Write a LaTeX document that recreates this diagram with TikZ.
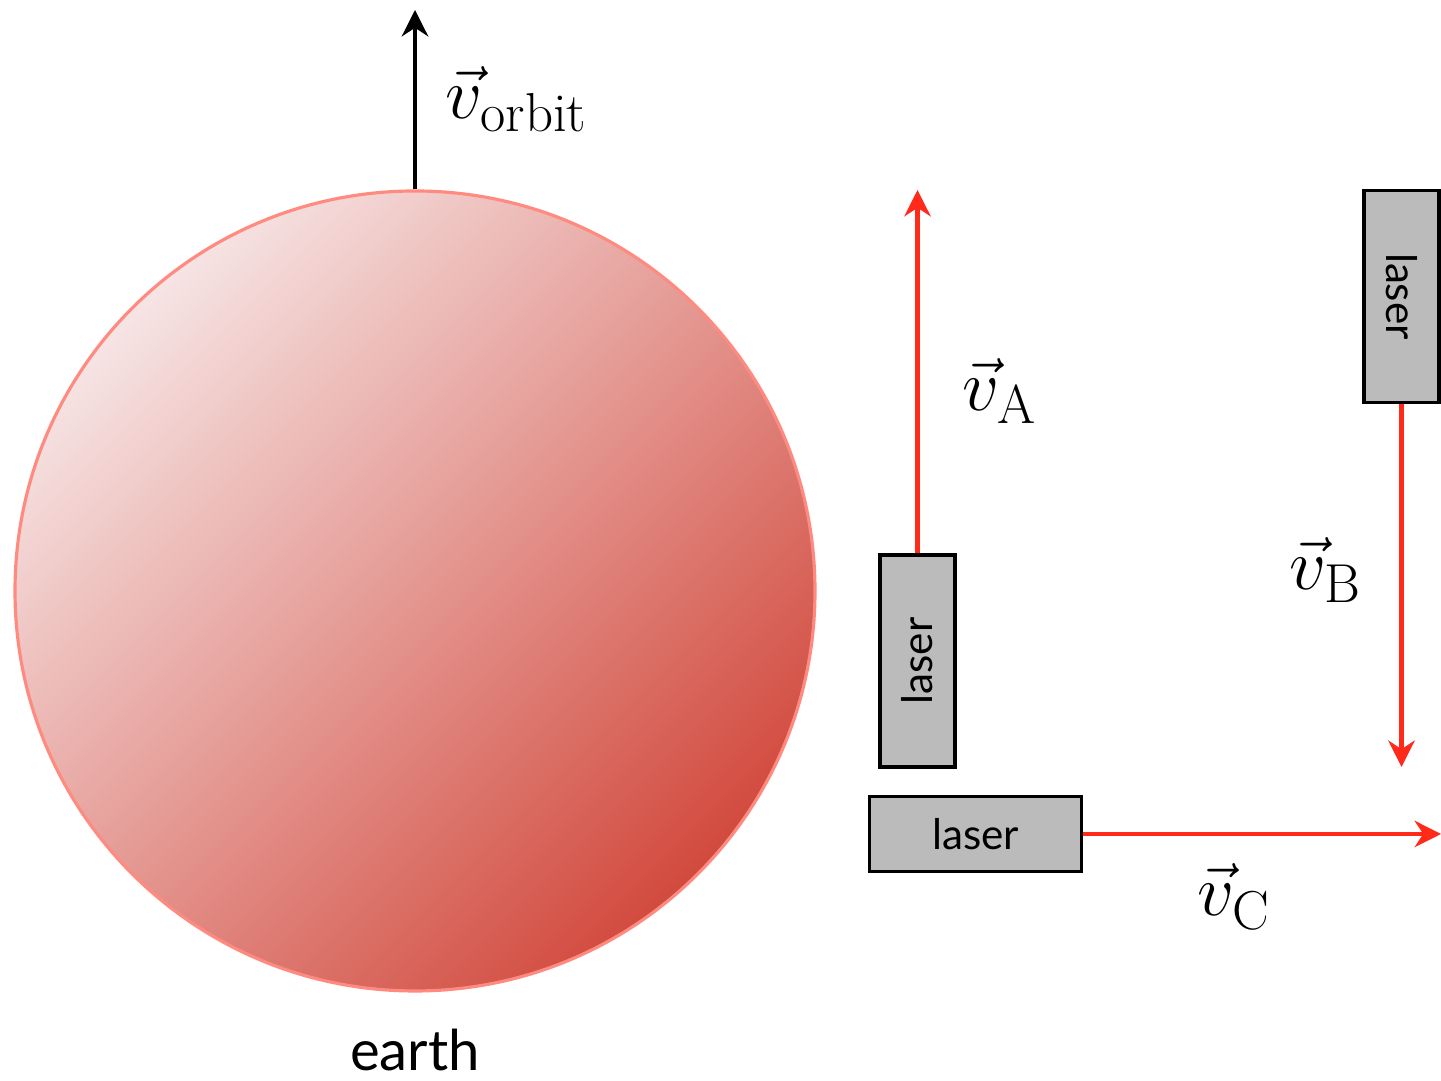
\documentclass[tikz,border=0pt]{standalone}
\usepackage{amsmath}
\usepackage{fontspec}
\usepackage{tikz}
\usetikzlibrary{arrows.meta}
\newfontfamily\labelfont{Lato}
\definecolor{beam}{HTML}{FF2A1A}
\definecolor{rim}{HTML}{FF8A80}
\definecolor{pale}{HTML}{F6E4E4}
\definecolor{deep}{HTML}{D24A3E}
\definecolor{casing}{HTML}{BBBBBB}

\begin{document}
\begin{tikzpicture}[font=\fontsize{22.3pt}{26pt}\selectfont,
  las/.style={draw, line width=0.9pt, fill=casing, minimum width=2.12cm, minimum height=0.75cm, inner sep=0pt, font=\labelfont\large},
  fl/.style={-{Stealth[length=7.5pt, width=7.5pt]}, line width=1.4pt}]
  \useasboundingbox (0,0) rectangle (14.41,10.81);
  % earth and its orbit velocity
  \node[circle, minimum size=8cm, inner sep=0pt, draw=rim, line width=0.9pt,
        top color=pale, bottom color=deep, shading angle=45] (earth) at (4.15,4.90) {};
  \node[font=\labelfont\fontsize{16pt}{20pt}\selectfont, inner sep=1pt] (earthlbl) at (4.15,0.31) {earth};
  \coordinate (orbittip) at (4.15,10.71);
  \draw[fl, black] (earth.north) -- (orbittip);
  \node (vorbit) at (5.17,9.82) {$\vec{v}_\mathrm{orbit}$};
  % the three lasers
  \node[las, rotate=90] (lasA) at (9.175,4.20) {laser};
  \node[las, rotate=-90] (lasB) at (14.015,7.845) {laser};
  \node[las] (lasC) at (9.755,2.47) {laser};
  \coordinate (tipA) at (9.175,8.91);
  \coordinate (tipB) at (14.015,3.14);
  \coordinate (tipC) at (14.41,2.47);
  \draw[fl, beam] (lasA.east) -- (tipA);
  \draw[fl, beam] (lasB.east) -- (tipB);
  \draw[fl, beam] (lasC.east) -- (tipC);
  \node (vA) at (10.00,6.90) {$\vec{v}_\mathrm{A}$};
  \node (vB) at (13.26,5.11) {$\vec{v}_\mathrm{B}$};
  \node (vC) at (12.34,1.84) {$\vec{v}_\mathrm{C}$};
\end{tikzpicture}
\end{document}
